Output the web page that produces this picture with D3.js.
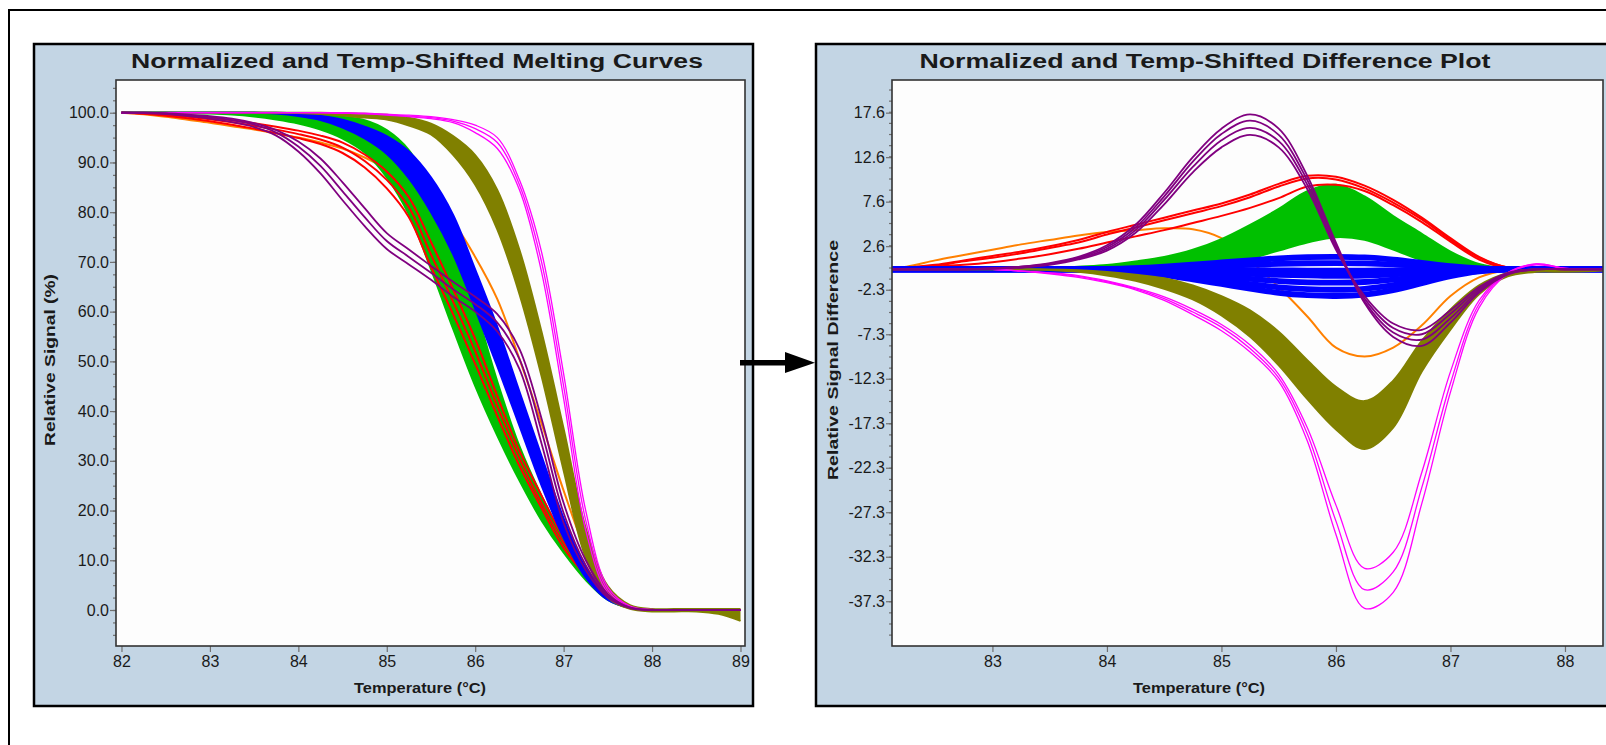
<!DOCTYPE html>
<html>
<head>
<meta charset="utf-8">
<script src="https://cdn.jsdelivr.net/npm/d3@7"></script>
<style>
html, body { margin: 0; padding: 0; background: #fff; }
svg { display: block; }
text { font-family: "Liberation Sans", Arial, sans-serif; fill: #1a1a1a; }
</style>
</head>
<body>
<svg width="1606" height="745"></svg>
<script>
// temperature grids (°C)
var tempsMelt = [82, 82.25, 82.5, 82.75, 83, 83.25, 83.5, 83.75, 84, 84.25, 84.5, 84.75, 85, 85.25, 85.5,
  85.75, 86, 86.25, 86.5, 86.75, 87, 87.25, 87.5, 87.75, 88, 88.25, 88.5, 88.75, 89];
var tempsDiff = [82, 82.25, 82.5, 82.75, 83, 83.25, 83.5, 83.75, 84, 84.25, 84.5, 84.75, 85, 85.25, 85.5,
  85.75, 86, 86.25, 86.5, 86.75, 87, 87.25, 87.5, 87.75, 88, 88.25, 88.5];

// ---- melting curves, relative signal (%) ----
var meltOrange = [[100,99.7,99.2,98.6,98.0,97.3,96.6,95.8,95.0,94.0,92.8,91.0,88.7,86.0,82.5,78,71,62.5,50.5,37.5,24,12,3.8,0.8,0,0,0,0,0]];
var meltGreenHigh = [100,100,100,100,100,100,100,99.9,99.8,99.6,99.2,98.5,96.5,92.5,85,74.5,61,46,33,23,14.5,7.5,2.5,0.5,0,0,0,0,0];
var meltGreenLow = [100,100,100,99.9,99.8,99.6,99.2,98.6,97.8,96.6,94.8,92,87,79.5,68.5,56.5,45,35,26,18,11.5,6,2,0.4,0,0,0,0,0];
var meltRed = [
  [100,99.9,99.7,99.4,99.0,98.5,97.9,97.2,96.4,95.4,94.0,91.6,88.2,83,74,64.5,54.5,43,32,23,14.5,8,3.2,0.6,0,0,0,0,0],
  [100,99.9,99.6,99.2,98.7,98.1,97.4,96.6,95.7,94.6,93.0,90.3,86.5,81,71.5,62,52,41,30.5,21.5,13.5,7.5,3,0.6,0,0,0,0,0],
  [100,99.8,99.4,98.9,98.3,97.6,96.8,95.9,94.9,93.7,91.9,89.0,84.8,79,69,59.5,49.5,39,29,20.5,12.5,7,2.8,0.5,0,0,0,0,0]
];
var meltBlueHigh = [100,100,100,100,100,100,100,100,99.8,99.4,98.6,97.2,95.3,92.2,87,79.5,68.5,57,44,31,18.5,8.5,3,0.6,0,0,0,0,0];
var meltBlueLow = [100,100,100,100,100,100,100,99.8,99.3,98.5,97.0,94.8,91.7,86.8,80,71.5,60.5,49,37,25,14.5,6.5,2,0.4,0,0,0,0,0];
var meltOliveHigh = [100,100,100,100,100,100,100,100,100,100,99.9,99.8,99.6,99.0,97.8,95.3,91.5,84.5,72.5,56,36.5,16.5,4.8,1.0,0.2,0.2,0.2,0.2,0.2];
var meltOliveLow = [100,100,100,100,100,100,100,100,99.9,99.7,99.4,99.0,98.6,97.4,95.6,91.5,85.5,76.5,63.5,47,28,10.5,2.5,0.2,-0.3,-0.3,-0.3,-0.8,-2.2];
var meltMagenta = [
  [100,100,100,100,100,100,100,100,100,100,99.9,99.8,99.5,99.2,98.8,98.0,96.0,92.8,84.5,68,42.5,16,3.4,0.5,0,0,0,0,0],
  [100,100,100,100,100,100,100,100,100,100,99.9,99.8,99.6,99.3,99.0,98.3,96.8,94.0,85.5,70,45,18,4,0.6,0,0,0,0,0],
  [100,100,100,100,100,100,100,100,100,100,100,99.9,99.7,99.5,99.2,98.6,97.5,95.0,86.5,72,47.5,20,4.6,0.8,0.1,0,0,0,0]
];
var meltPurple = [
  [100,100,99.9,99.6,99.3,98.8,97.9,96.5,94.2,90.8,86,80.8,75.8,72.5,69.2,66,63,59.5,52.5,38.5,21.5,10,3.2,0.5,0,0,0,0,0],
  [100,100,99.8,99.5,99.1,98.5,97.6,96.0,93.2,89.3,84.2,79.0,74.2,71.0,67.8,64.5,61.5,57.8,50.5,36,19.5,9,2.8,0.5,0,0,0,0,0],
  [100,99.9,99.7,99.3,98.8,98.1,97.1,95.4,92.2,87.8,82.4,77.2,72.6,69.5,66.4,63.0,60.0,56,48.5,33.5,17.5,8,2.5,0.4,0,0,0,0,0]
];

// ---- difference plot, relative signal difference ----
var diffOrange = [[0,0.3,1.0,1.6,2.2,2.8,3.3,3.8,4.2,4.4,4.6,4.5,3.5,1.0,-2.0,-5.3,-8.8,-9.8,-8.8,-6.3,-3.0,-0.9,-0.1,0,0,0,0]];
var diffGreenHigh = [0,0,0,0,0,0,0.1,0.3,0.5,0.9,1.4,2.2,3.4,5.0,6.8,8.8,9.5,8.2,6.0,4.0,2.0,0.6,0.1,0,0,0,0];
var diffGreenLow = [0,0,0,0,0,0,0,0,0,0,0.1,0.3,0.6,1.2,2.1,3.0,3.6,3.3,2.2,1.0,0.3,0,0,0,0,0,0];
var diffRed = [
  [0,0.2,0.5,1.0,1.5,2.0,2.6,3.3,4.2,5.0,5.8,6.6,7.4,8.4,9.6,10.5,10.4,9.4,7.8,5.8,3.5,1.4,0.2,0,0,0,0],
  [0,0.2,0.4,0.9,1.3,1.8,2.4,3.0,3.9,4.7,5.5,6.3,7.1,8.1,9.3,10.2,10.1,9.1,7.5,5.6,3.3,1.3,0.2,0,0,0,0],
  [0,0.1,0.3,0.5,0.8,1.2,1.7,2.3,3.0,3.7,4.4,5.2,6.0,6.9,8.0,9.3,9.5,8.8,7.2,5.3,3.1,1.1,0.1,0,0,0,0]
];
var diffBlue = [
  [0,0,0,0,0,0,0,0,0.04,0.14,0.31,0.53,0.77,1.01,1.23,1.36,1.4,1.33,1.09,0.73,0.36,0.11,0,0,0,0,0],
  [0,0,0,0,0,0,0,0,0.02,0.07,0.15,0.27,0.39,0.5,0.62,0.68,0.7,0.67,0.55,0.36,0.18,0.06,0,0,0,0,0],
  [0,0,0,0,0,0,0,0,0,-0.02,-0.04,-0.06,-0.08,-0.1,-0.12,-0.14,-0.15,-0.14,-0.12,-0.08,-0.04,-0.01,0,0,0,0,0],
  [0,0,0,0,0,0,0,0,-0.02,-0.07,-0.15,-0.27,-0.39,-0.5,-0.62,-0.68,-0.75,-0.7,-0.57,-0.38,-0.19,-0.06,0,0,0,0,0],
  [0,0,0,0,0,0,0,0,-0.05,-0.15,-0.33,-0.57,-0.83,-1.08,-1.32,-1.46,-1.5,-1.43,-1.17,-0.78,-0.39,-0.12,0,0,0,0,0],
  [0,0,0,0,0,0,0,0,-0.07,-0.23,-0.51,-0.87,-1.27,-1.66,-2.02,-2.23,-2.3,-2.19,-1.79,-1.2,-0.6,-0.18,0,0,0,0,0],
  [0,0,0,0,0,0,0,0,-0.09,-0.3,-0.66,-1.14,-1.65,-2.16,-2.64,-2.91,-3.0,-2.85,-2.34,-1.56,-0.78,-0.24,0,0,0,0,0]
];
var diffOliveHigh = [0,0,0,0,0,0,0,-0.1,-0.3,-0.6,-1.0,-1.8,-3.0,-4.6,-7.0,-10.2,-13.2,-14.8,-12.5,-8.0,-4.5,-1.8,-0.4,0,0,0,0];
var diffOliveLow = [0,0,0,0,0,0,-0.1,-0.3,-0.7,-1.3,-2.2,-3.4,-5.2,-7.6,-10.8,-14.6,-18.0,-20.2,-17.8,-11.5,-6.8,-2.8,-0.8,-0.3,-0.3,-0.2,0];
var diffMagenta = [
  [0,0,0,0,0,-0.2,-0.4,-0.7,-1.3,-2.1,-3.1,-4.5,-6.2,-8.5,-11.8,-17.8,-26.5,-33.6,-31.8,-22.8,-11.5,-3.5,-0.4,0.5,0.1,0,0],
  [0,0,0,0,0,-0.2,-0.4,-0.8,-1.4,-2.2,-3.3,-4.8,-6.5,-8.9,-12.2,-18.5,-28.3,-36.0,-34.0,-24.5,-12.8,-3.9,-0.4,0.6,0.1,0,0],
  [0,0,0,0,0,-0.2,-0.5,-0.9,-1.5,-2.3,-3.5,-5.1,-6.9,-9.3,-12.6,-19.3,-29.8,-38.1,-36.3,-26.3,-13.8,-4.3,-0.5,0.6,0.1,0,0]
];
var diffPurple = [
  [0,0,0,0,0.1,0.3,0.7,1.4,2.7,5.0,8.6,12.6,15.8,17.4,15.8,10.5,3.0,-3.8,-7.6,-8.6,-6.0,-2.6,-0.6,0,0,0,0],
  [0,0,0,0,0.1,0.3,0.6,1.3,2.5,4.7,8.2,12.1,15.2,16.7,15.1,10.0,2.7,-3.6,-7.1,-7.9,-5.5,-2.4,-0.5,0,0,0,0],
  [0,0,0,0,0.1,0.2,0.6,1.2,2.3,4.4,7.8,11.5,14.5,15.9,14.4,9.5,2.4,-3.3,-6.6,-7.3,-5.0,-2.2,-0.5,0,0,0,0],
  [0,0,0,0,0.05,0.2,0.5,1.1,2.1,4.1,7.3,10.9,13.7,15.1,13.7,9.0,2.2,-3.0,-6.1,-6.8,-4.6,-2.0,-0.4,0,0,0,0]
];

// axis ticks
var meltXTicks = [82, 83, 84, 85, 86, 87, 88, 89];
var meltYTicks = [0, 10, 20, 30, 40, 50, 60, 70, 80, 90, 100];
var diffXTicks = [83, 84, 85, 86, 87, 88];
var diffYTicks = [17.6, 12.6, 7.6, 2.6, -2.3, -7.3, -12.3, -17.3, -22.3, -27.3, -32.3, -37.3];

var colors = {
  orange: '#ff8000', green: '#00c000', red: '#ff0000', blue: '#0000ff',
  olive: '#808000', magenta: '#ff00ff', purple: '#800080'
};

var svg = d3.select('svg');
var curve = d3.curveCatmullRom.alpha(0.5);

// outer frame (open to the right and bottom)
svg.append('path')
  .attr('d', 'M9,745V10H1606')
  .attr('fill', 'none')
  .attr('stroke', '#000')
  .attr('stroke-width', 2);

function drawPanel(p) {
  var g = svg.append('g');
  g.append('rect')
    .attr('x', p.box[0]).attr('y', p.box[1])
    .attr('width', p.box[2]).attr('height', p.box[3])
    .attr('fill', '#c3d5e4')
    .attr('stroke', '#000')
    .attr('stroke-width', 2.5);

  var x = d3.scaleLinear().domain(p.xDomain).range([p.plot[0], p.plot[0] + p.plot[2]]);
  var y = d3.scaleLinear().domain(p.yDomain).range([p.plot[1] + p.plot[3], p.plot[1]]);

  g.append('rect')
    .attr('x', p.plot[0]).attr('y', p.plot[1])
    .attr('width', p.plot[2]).attr('height', p.plot[3])
    .attr('fill', '#fdfdfd');

  // minor y ticks
  g.append('g')
    .attr('transform', 'translate(' + p.plot[0] + ',0)')
    .call(d3.axisLeft(y).tickValues(p.yMinor).tickSize(3).tickFormat(''))
    .call(function (a) { a.select('.domain').remove(); });

  var yAxis = g.append('g')
    .attr('transform', 'translate(' + p.plot[0] + ',0)')
    .call(d3.axisLeft(y).tickValues(p.yTicks).tickSize(6).tickPadding(1)
      .tickFormat(function (d) { return p.yFormat(d); }));
  yAxis.select('.domain').remove();

  var xAxis = g.append('g')
    .attr('transform', 'translate(0,' + (p.plot[1] + p.plot[3]) + ')')
    .call(d3.axisBottom(x).tickValues(p.xTicks).tickSize(6).tickPadding(4).tickFormat(d3.format('d')));
  xAxis.select('.domain').remove();

  g.selectAll('.tick line').attr('stroke', '#707070').attr('stroke-width', 1.2);
  g.selectAll('.tick text')
    .style('font-family', '"Liberation Sans", Arial, sans-serif')
    .style('font-size', '16px')
    .attr('fill', '#1a1a1a');

  var clipId = 'clip' + p.id;
  g.append('clipPath').attr('id', clipId)
    .append('rect')
    .attr('x', p.plot[0]).attr('y', p.plot[1])
    .attr('width', p.plot[2]).attr('height', p.plot[3]);
  var plotG = g.append('g').attr('clip-path', 'url(#' + clipId + ')');

  // frame of plot area on top
  g.append('rect')
    .attr('x', p.plot[0]).attr('y', p.plot[1])
    .attr('width', p.plot[2]).attr('height', p.plot[3])
    .attr('fill', 'none')
    .attr('stroke', '#333')
    .attr('stroke-width', 1.6);

  // texts
  g.append('text')
    .attr('x', p.titlePos[0]).attr('y', p.titlePos[1])
    .attr('text-anchor', 'middle')
    .attr('textLength', p.titleLen)
    .attr('lengthAdjust', 'spacingAndGlyphs')
    .style('font-size', '20px')
    .style('font-weight', 'bold')
    .text(p.title);

  g.append('text')
    .attr('x', p.xTitlePos[0]).attr('y', p.xTitlePos[1])
    .attr('text-anchor', 'middle')
    .attr('textLength', 132)
    .attr('lengthAdjust', 'spacingAndGlyphs')
    .style('font-size', '15.5px')
    .style('font-weight', 'bold')
    .text('Temperature (°C)');

  g.append('text')
    .attr('transform', 'translate(' + p.yTitlePos[0] + ',' + p.yTitlePos[1] + ') rotate(-90)')
    .attr('text-anchor', 'middle')
    .attr('dy', '0.36em')
    .attr('textLength', p.yTitleLen)
    .attr('lengthAdjust', 'spacingAndGlyphs')
    .style('font-size', '15.5px')
    .style('font-weight', 'bold')
    .text(p.yTitle);

  return { plot: plotG, x: x, y: y };
}

function drawGroup(panel, temps, lines, color, width) {
  var line = d3.line()
    .x(function (d, i) { return panel.x(temps[i]); })
    .y(function (d) { return panel.y(d); })
    .curve(curve);
  panel.plot.append('g')
    .selectAll('path')
    .data(lines)
    .enter()
    .append('path')
    .attr('d', line)
    .attr('fill', 'none')
    .attr('stroke', color)
    .attr('stroke-width', width);
}

function drawBand(panel, temps, high, low, color) {
  var area = d3.area()
    .x(function (d, i) { return panel.x(temps[i]); })
    .y0(function (d, i) { return panel.y(low[i]); })
    .y1(function (d) { return panel.y(d); })
    .curve(curve);
  panel.plot.append('path')
    .datum(high)
    .attr('d', area)
    .attr('fill', color);
  drawGroup(panel, temps, [high, low], color, 1.8);
}

// left panel: melting curves
var melt = drawPanel({
  id: 'melt',
  box: [34, 44, 719, 662],
  plot: [116, 80, 629, 566],
  xDomain: [81.938, 89.051],
  yDomain: [-7.24, 106.58],
  xTicks: meltXTicks,
  yTicks: meltYTicks,
  yMinor: d3.range(-5, 106, 2.5),
  yFormat: d3.format('.1f'),
  title: 'Normalized and Temp-Shifted Melting Curves',
  titlePos: [417, 68],
  titleLen: 572,
  xTitlePos: [420, 693],
  yTitlePos: [49, 360],
  yTitleLen: 172,
  yTitle: 'Relative Signal (%)'
});

drawGroup(melt, tempsMelt, meltOrange, colors.orange, 2);
drawBand(melt, tempsMelt, meltGreenHigh, meltGreenLow, colors.green);
drawGroup(melt, tempsMelt, meltRed, colors.red, 2);
drawBand(melt, tempsMelt, meltBlueHigh, meltBlueLow, colors.blue);
drawBand(melt, tempsMelt, meltOliveHigh, meltOliveLow, colors.olive);
drawGroup(melt, tempsMelt, meltMagenta, colors.magenta, 1.3);
drawGroup(melt, tempsMelt, meltPurple, colors.purple, 1.8);

// right panel: difference plot
var diff = drawPanel({
  id: 'diff',
  box: [816, 44, 820, 662],
  plot: [892, 80, 711, 566],
  xDomain: [82.123, 88.332],
  yDomain: [-42.33, 21.27],
  xTicks: diffXTicks,
  yTicks: diffYTicks,
  yMinor: d3.range(-41.05, 21.3, 1.25),
  yFormat: function (d) { return d.toFixed(1); },
  title: 'Normalized and Temp-Shifted Difference Plot',
  titlePos: [1205, 68],
  titleLen: 571,
  xTitlePos: [1199, 693],
  yTitlePos: [832, 360],
  yTitleLen: 240,
  yTitle: 'Relative Signal Difference'
});

drawGroup(diff, tempsDiff, diffOrange, colors.orange, 2);
drawBand(diff, tempsDiff, diffGreenHigh, diffGreenLow, colors.green);
drawGroup(diff, tempsDiff, diffRed, colors.red, 2);
drawGroup(diff, tempsDiff, diffBlue, colors.blue, 5.8);
drawBand(diff, tempsDiff, diffOliveHigh, diffOliveLow, colors.olive);
drawGroup(diff, tempsDiff, diffMagenta, colors.magenta, 1.3);
drawGroup(diff, tempsDiff, diffPurple, colors.purple, 1.8);

// arrow between the two panels
svg.append('rect')
  .attr('x', 740).attr('y', 360)
  .attr('width', 49).attr('height', 5.5)
  .attr('fill', '#000');
svg.append('path')
  .attr('d', 'M785,352L815,362.7L785,373Z')
  .attr('fill', '#000');
</script>
</body>
</html>
